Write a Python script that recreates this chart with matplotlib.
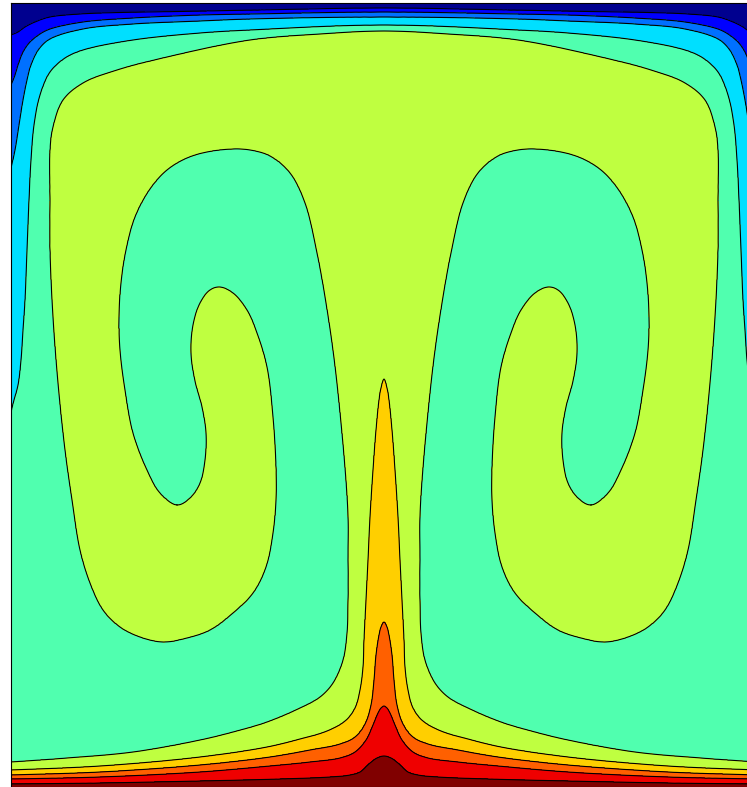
import numpy as np
import matplotlib
matplotlib.use("Agg")
import matplotlib.pyplot as plt

# Cavity: horizontal position 0..WIDTH, depth 0..DEPTH measured down from the cold lid
WIDTH = 746.0
DEPTH = 784.0

LEVELS = [0.0, 0.1, 0.2, 0.3, 0.4, 0.5, 0.6, 0.7, 0.8, 0.9, 1.0]
COLORS = ["#00008f", "#0000ff", "#0070ff", "#00dfff", "#50ffaf",
          "#bfff40", "#ffcf00", "#ff6000", "#ef0000", "#800000"]

# Isotherms (x, depth) of the left half, from the side wall to the mid-plane;
# the right half is the mirror image about x = WIDTH / 2.
ISO_01 = [(0, 32), (7, 29), (14, 24), (24, 19), (39, 14), (69, 11), (109, 9.5),
          (169, 8.5), (249, 7), (373, 5)]
ISO_02 = [(0, 82), (4, 72), (7, 62), (12, 49), (19, 39), (29, 31), (39, 26),
          (72, 19), (122, 15), (189, 12), (239, 11), (373, 9)]
ISO_03 = [(0, 165), (4, 147), (8, 122), (12, 97), (16, 77), (20, 62), (28, 46),
          (39, 36), (72, 26), (122, 21), (189, 18), (239, 16), (373, 14)]
ISO_04 = [(0, 409), (3, 397), (7, 382), (10, 357), (12, 327), (14, 297), (16, 247),
          (18, 197), (20, 157), (23, 122), (29, 92), (39, 69), (54, 55), (72, 47),
          (122, 37), (189, 30), (239, 27), (373, 22)]
ISO_05 = [(0, 759), (56, 755), (122, 749), (189, 737), (222, 729), (256, 719),
          (289, 705), (309, 694), (322, 680), (332, 657), (336, 630), (337, 597),
          (337, 557), (337, 514), (335, 478), (330, 420), (323, 355), (315, 300),
          (306, 250), (294, 200), (279, 170), (259, 153), (239, 147), (222, 146),
          (196, 149), (176, 155), (156, 167), (139, 186), (124, 214), (115, 247),
          (110, 280), (108, 314), (109, 347), (114, 387), (122, 430), (136, 467),
          (149, 490), (166, 502), (179, 495), (189, 480), (194, 457), (195, 430),
          (191, 404), (184, 378), (180, 350), (182, 322), (189, 300), (199, 287),
          (209, 284), (222, 290), (236, 307), (246, 330), (256, 364), (262, 414),
          (265, 464), (265, 497), (262, 530), (255, 564), (242, 590), (222, 610),
          (199, 627), (176, 635), (152, 639), (129, 634), (109, 624), (92, 607),
          (79, 580), (69, 547), (61, 497), (54, 447), (47, 380), (42, 314),
          (39, 247), (39, 197), (39, 147), (42, 124), (52, 97), (72, 80),
          (106, 67), (156, 54), (239, 37), (309, 31), (373, 28)]
ISO_06 = [(0, 767), (89, 763), (189, 754), (256, 744), (289, 736), (316, 728),
          (334, 718), (344, 705), (349, 687), (352, 664), (353, 637), (355, 597),
          (357, 557), (359, 514), (362, 467), (365, 427), (368, 397), (370, 385),
          (373, 376)]
ISO_07 = [(0, 772), (89, 769), (189, 762), (259, 754), (299, 747), (329, 741),
          (344, 734), (354, 721), (360, 702), (363, 677), (365, 652), (368, 632),
          (370, 624), (373, 619)]
ISO_08 = [(0, 776), (89, 774), (189, 769), (259, 763), (299, 759), (329, 755),
          (344, 749), (355, 737), (362, 722), (367, 710), (370, 705), (373, 703)]
ISO_09 = [(0, 781), (89, 780), (189, 778), (269, 776), (319, 774), (339, 772),
          (349, 769), (359, 760), (366, 755), (373, 753)]

ISOTHERMS = [ISO_01, ISO_02, ISO_03, ISO_04, ISO_05, ISO_06, ISO_07, ISO_08, ISO_09]


def catmull_rom(points, per_unit=2.0):
    """Centripetal Catmull-Rom curve through the given points."""
    P = np.asarray(points, float)
    P = np.vstack([2 * P[0] - P[1], P, 2 * P[-1] - P[-2]])
    out = []
    for i in range(1, len(P) - 2):
        p0, p1, p2, p3 = P[i - 1], P[i], P[i + 1], P[i + 2]
        t0 = 0.0
        t1 = t0 + np.linalg.norm(p1 - p0) ** 0.5
        t2 = t1 + np.linalg.norm(p2 - p1) ** 0.5
        t3 = t2 + np.linalg.norm(p3 - p2) ** 0.5
        n = max(int(np.ceil(np.linalg.norm(p2 - p1) * per_unit)), 2)
        t = np.linspace(t1, t2, n, endpoint=False)[:, None]
        a1 = (t1 - t) / (t1 - t0) * p0 + (t - t0) / (t1 - t0) * p1
        a2 = (t2 - t) / (t2 - t1) * p1 + (t - t1) / (t2 - t1) * p2
        a3 = (t3 - t) / (t3 - t2) * p2 + (t - t2) / (t3 - t2) * p3
        b1 = (t2 - t) / (t2 - t0) * a1 + (t - t0) / (t2 - t0) * a2
        b2 = (t3 - t) / (t3 - t1) * a2 + (t - t1) / (t3 - t1) * a3
        out.append((t2 - t) / (t2 - t1) * b1 + (t - t1) / (t2 - t1) * b2)
    out.append(P[-2][None])
    return np.vstack(out)


def full_isotherm(half):
    """Mirror a half isotherm and extend it slightly past both side walls."""
    left = np.asarray(half, float)
    right = left[-2::-1].copy()
    right[:, 0] = WIDTH - right[:, 0]
    pts = np.vstack([left, right])
    d0 = pts[0] - pts[1]
    d1 = pts[-1] - pts[-2]
    ext0 = pts[0] + 25 * d0 / np.linalg.norm(d0)
    ext1 = pts[-1] + 25 * d1 / np.linalg.norm(d1)
    return catmull_rom(np.vstack([ext0, pts, ext1]))


xg = np.arange(0.0, WIDTH + 0.5, 1.0)
zg = np.arange(0.0, DEPTH + 0.5, 1.0)
nx, nz = len(xg), len(zg)
BAND = 4.0


def hot_side(curve):
    """True below the isotherm: odd number of crossings above each node."""
    xa, za = curve[:-1, 0], curve[:-1, 1]
    xb, zb = curve[1:, 0], curve[1:, 1]
    lo, hi = np.minimum(xa, xb), np.maximum(xa, xb)
    i0 = np.clip(np.ceil(lo - xg[0]).astype(int), 0, nx)
    i1 = np.clip(np.ceil(hi - xg[0]).astype(int), 0, nx)
    cnt = np.maximum(i1 - i0, 0)
    e = np.repeat(np.arange(len(xa)), cnt)
    offs = np.arange(cnt.sum()) - np.repeat(np.cumsum(cnt) - cnt, cnt)
    cols = i0[e] + offs
    xc = xg[cols]
    zc = za[e] + (xc - xa[e]) * (zb[e] - za[e]) / (xb[e] - xa[e])
    rows = np.searchsorted(zg, zc, side="right")
    acc = np.zeros((nz + 1, nx), int)
    np.add.at(acc, (rows, cols), 1)
    return (np.cumsum(acc, axis=0)[:nz] % 2) == 1


def near_distance(curve):
    """Distance to the isotherm, capped at BAND."""
    w = int(np.ceil(BAND)) + 1
    ci = np.rint(curve[:, 0] - xg[0]).astype(int)
    cj = np.rint(curve[:, 1] - zg[0]).astype(int)
    off = np.arange(-w, w + 1)
    oi, oj = np.meshgrid(off, off)
    I = ci[:, None] + oi.ravel()[None, :]
    J = cj[:, None] + oj.ravel()[None, :]
    ok = (I >= 0) & (I < nx) & (J >= 0) & (J < nz)
    d = np.hypot(xg[np.clip(I, 0, nx - 1)] - curve[:, 0, None],
                 zg[np.clip(J, 0, nz - 1)] - curve[:, 1, None])
    dist = np.full(nz * nx, BAND)
    np.minimum.at(dist, (J * nx + I)[ok], np.minimum(d[ok], BAND))
    return dist.reshape(nz, nx)


curves = [full_isotherm(h) for h in ISOTHERMS]
inside = np.array([hot_side(c) for c in curves])
dist = np.array([near_distance(c) for c in curves])

# temperature: level of the band a node sits in, plus its relative position
m = inside.sum(axis=0)
a = np.full((nz, nx), BAND)
b = np.full((nz, nx), BAND)
for k in range(len(curves)):
    sel = m == k + 1
    a[sel] = dist[k][sel]
    sel = m == k
    b[sel] = dist[k][sel]
lev = np.asarray(LEVELS)
T = lev[m] + (lev[m + 1] - lev[m]) * a / (a + b + 1e-9)

fig = plt.figure(figsize=(7.47, 7.87), dpi=100)
ax = fig.add_axes([11 / 747, 0.0, 746 / 747, 784 / 787])
ax.contourf(xg, zg, T, levels=LEVELS, colors=COLORS)
ax.contour(xg, zg, T, levels=LEVELS[1:-1], colors="k", linewidths=0.8)
ax.set_xlim(0, WIDTH)
ax.set_ylim(DEPTH, 0)
ax.set_xticks([])
ax.set_yticks([])
for s in ax.spines.values():
    s.set_linewidth(0.8)
fig.savefig("out.png", dpi=100)
